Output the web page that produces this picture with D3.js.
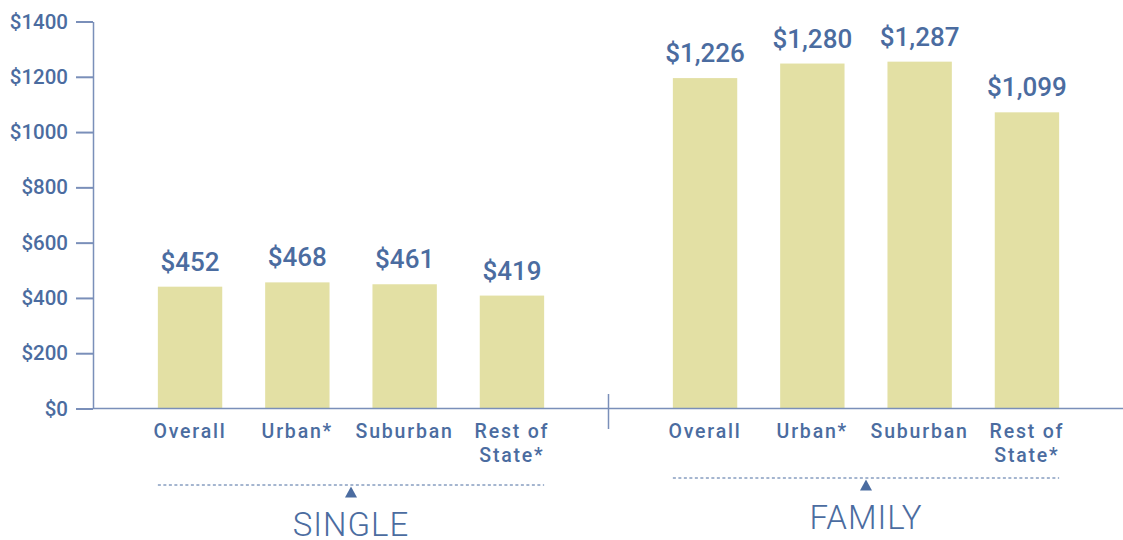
<!DOCTYPE html>
<html>
<head>
<meta charset="utf-8">
<script src="https://cdn.jsdelivr.net/npm/d3@7"></script>
<style>
  html, body { margin: 0; padding: 0; background: #fff; }
  svg { display: block; font-family: Roboto, "Noto Sans", sans-serif; }
</style>
</head>
<body>
<svg id="chart" width="1123" height="540"></svg>
<script>
// ---- data ----
const groups = ['SINGLE', 'FAMILY'];
const categories = ['Overall', 'Urban*', 'Suburban', 'Rest of\nState*'];
const singleValues = [452, 468, 461, 419];
const familyValues = [1226, 1280, 1287, 1099];
const yTicks = [0, 200, 400, 600, 800, 1000, 1200, 1400];

const BLUE = '#4b6ca0', AXIS = '#7a8fb9', BAR = '#e3e0a4';
const FONT = 'Roboto, "Noto Sans", sans-serif';

const svg = d3.select('#chart');
const y0 = 408.5, y1 = 21.5;

// tick scale for the axis; the source draws bars against a slightly taller domain
const y = d3.scaleLinear().domain([0, 1400]).range([y0, y1]);
const yBar = d3.scaleLinear().domain([0, 1436]).range([y0, y1]);

const x0 = d3.scaleBand().domain(groups).range([136.4, 1080.6]).paddingInner(0.1666).paddingOuter(0);
const x1 = d3.scaleBand().domain(categories).range([0, x0.bandwidth()]).paddingInner(0.4).paddingOuter(0.2);

const data = groups.map((g, gi) => ({
  group: g,
  values: (gi === 0 ? singleValues : familyValues).map((v, i) => ({ cat: categories[i], v }))
}));

// ---- y axis ----
const yAxis = svg.append('g')
  .attr('transform', 'translate(93,0)')
  .call(d3.axisLeft(y).tickValues(yTicks).tickSize(17).tickSizeOuter(0).tickPadding(8)
    .tickFormat(d => '$' + d))
  .attr('font-family', FONT);
yAxis.select('.domain').attr('stroke', AXIS).attr('stroke-width', 1.5);
yAxis.selectAll('.tick line').attr('stroke', AXIS).attr('stroke-width', 2);
yAxis.selectAll('.tick text').attr('fill', BLUE).attr('font-size', 20.5).attr('font-weight', 500);

// ---- bars ----
const g = svg.selectAll('g.grp').data(data).join('g')
  .attr('class', 'grp')
  .attr('transform', d => `translate(${x0(d.group)},0)`);

g.selectAll('rect').data(d => d.values).join('rect')
  .attr('x', d => x1(d.cat))
  .attr('width', x1.bandwidth())
  .attr('y', d => yBar(d.v))
  .attr('height', d => y0 - yBar(d.v))
  .attr('fill', BAR);

g.selectAll('text.val').data(d => d.values).join('text')
  .attr('class', 'val')
  .attr('x', d => x1(d.cat) + x1.bandwidth() / 2)
  .attr('y', d => yBar(d.v) - 16)
  .attr('text-anchor', 'middle')
  .attr('fill', BLUE).attr('font-size', 26).attr('font-weight', 500)
  .text(d => '$' + d3.format(d.v >= 1000 ? ',' : 'd')(d.v));

// category labels
g.selectAll('text.cat').data(d => d.values).join('text')
  .attr('class', 'cat')
  .attr('x', d => x1(d.cat) + x1.bandwidth() / 2)
  .attr('y', 438)
  .attr('text-anchor', 'middle')
  .attr('fill', BLUE).attr('font-size', 19.5).attr('font-weight', 500)
  .attr('letter-spacing', 1.8)
  .each(function (d) {
    const lines = d.cat.split('\n');
    d3.select(this).selectAll('tspan').data(lines).join('tspan')
      .attr('x', x1(d.cat) + x1.bandwidth() / 2)
      .attr('dy', (l, i) => i ? 23.5 : 0)
      .text(l => l);
  });

// ---- x axis line + separator ----
svg.append('line')
  .attr('x1', 93).attr('x2', 1123).attr('y1', y0).attr('y2', y0)
  .attr('stroke', AXIS).attr('stroke-width', 1.5);
const sepX = (x0('SINGLE') + x0.bandwidth() + x0('FAMILY')) / 2;
svg.append('line')
  .attr('x1', sepX).attr('x2', sepX).attr('y1', 394).attr('y2', 429)
  .attr('stroke', AXIS).attr('stroke-width', 1.5);

// ---- group brackets ----
const bracketY = { SINGLE: 485, FAMILY: 478 };
const bracketLabelY = { SINGLE: 535.5, FAMILY: 529 };
g.append('line')
  .attr('x1', x1(categories[0]))
  .attr('x2', x1(categories[3]) + x1.bandwidth())
  .attr('y1', d => bracketY[d.group]).attr('y2', d => bracketY[d.group])
  .attr('stroke', BLUE).attr('stroke-width', 1).attr('stroke-dasharray', '3 2.5');
g.append('path')
  .attr('d', d => {
    const cx = x0.bandwidth() / 2, ty = bracketY[d.group] + 1.5;
    return `M${cx - 6},${ty + 11}L${cx + 6},${ty + 11}L${cx},${ty}Z`;
  })
  .attr('fill', BLUE);
g.append('text')
  .attr('x', x0.bandwidth() / 2)
  .attr('y', d => bracketLabelY[d.group])
  .attr('text-anchor', 'middle')
  .attr('fill', BLUE).attr('font-size', 33).attr('font-weight', 300)
  .attr('letter-spacing', 1)
  .text(d => d.group);
</script>
</body>
</html>
